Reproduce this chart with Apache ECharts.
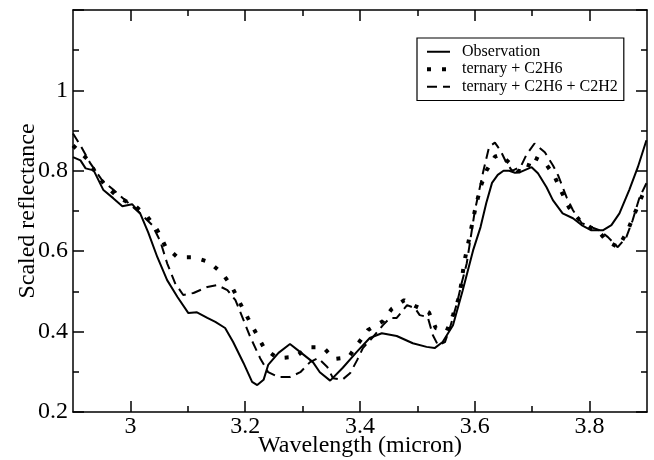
<!DOCTYPE html>
<html><head><meta charset="utf-8">
<script src="https://cdn.jsdelivr.net/npm/echarts@6/dist/echarts.min.js"></script>
<style>html,body{margin:0;padding:0;background:#fff}#c{width:654px;height:460px}</style>
</head><body><div id="c"></div>
<script>
// Observation
const obsX = [2.900,2.913,2.922,2.936,2.953,2.970,2.986,3.003,3.017,3.031,3.047,3.064,3.082,3.101,3.116,3.134,3.148,3.165,3.179,3.197,3.212,3.221,3.232,3.240,3.258,3.278,3.296,3.318,3.330,3.348,3.370,3.394,3.417,3.438,3.464,3.492,3.516,3.530,3.544,3.562,3.579,3.597,3.610,3.620,3.630,3.640,3.650,3.660,3.670,3.678,3.699,3.710,3.725,3.736,3.753,3.771,3.786,3.803,3.823,3.838,3.852,3.869,3.884,3.899];
const obsY = [0.834,0.826,0.806,0.801,0.752,0.732,0.712,0.717,0.694,0.647,0.585,0.528,0.486,0.446,0.448,0.434,0.424,0.409,0.374,0.322,0.275,0.267,0.280,0.317,0.347,0.369,0.349,0.324,0.299,0.278,0.310,0.349,0.384,0.396,0.389,0.371,0.362,0.359,0.374,0.416,0.503,0.602,0.660,0.720,0.770,0.790,0.800,0.800,0.795,0.796,0.809,0.794,0.759,0.727,0.694,0.682,0.665,0.652,0.652,0.665,0.694,0.752,0.809,0.876];
// ternary + C2H6
const c2h6X = [2.900,2.925,2.939,2.956,2.979,3.008,3.030,3.047,3.061,3.082,3.110,3.137,3.160,3.177,3.191,3.205,3.219,3.233,3.256,3.287,3.310,3.336,3.355,3.380,3.397,3.414,3.440,3.455,3.477,3.497,3.520,3.532,3.551,3.562,3.572,3.577,3.581,3.590,3.600,3.610,3.620,3.635,3.645,3.660,3.675,3.690,3.699,3.722,3.739,3.751,3.764,3.782,3.803,3.814,3.830,3.850,3.866,3.877,3.889,3.899];
const c2h6Y = [0.863,0.829,0.796,0.764,0.734,0.713,0.685,0.652,0.612,0.585,0.585,0.573,0.545,0.511,0.471,0.433,0.396,0.359,0.334,0.337,0.361,0.361,0.332,0.336,0.371,0.404,0.426,0.456,0.478,0.463,0.448,0.409,0.401,0.441,0.483,0.523,0.568,0.630,0.700,0.760,0.800,0.835,0.840,0.820,0.800,0.797,0.836,0.821,0.786,0.748,0.709,0.678,0.658,0.652,0.625,0.610,0.650,0.689,0.729,0.764];
// ternary + C2H6 + C2H2
const c2h2X = [2.900,2.913,2.930,2.951,2.971,2.995,3.017,3.038,3.052,3.064,3.078,3.092,3.110,3.134,3.151,3.169,3.183,3.195,3.209,3.226,3.240,3.258,3.278,3.296,3.313,3.327,3.343,3.353,3.369,3.383,3.395,3.405,3.421,3.440,3.452,3.464,3.482,3.496,3.504,3.518,3.527,3.536,3.548,3.557,3.569,3.577,3.586,3.600,3.615,3.625,3.635,3.645,3.655,3.665,3.680,3.690,3.704,3.722,3.736,3.745,3.760,3.771,3.786,3.803,3.817,3.832,3.849,3.864,3.875,3.887,3.899];
const c2h2Y = [0.893,0.863,0.819,0.776,0.752,0.722,0.694,0.665,0.625,0.570,0.520,0.491,0.496,0.511,0.516,0.503,0.478,0.436,0.386,0.334,0.299,0.287,0.287,0.299,0.324,0.334,0.312,0.284,0.280,0.297,0.329,0.359,0.384,0.416,0.434,0.434,0.466,0.458,0.441,0.436,0.391,0.366,0.374,0.411,0.471,0.520,0.570,0.700,0.800,0.860,0.870,0.850,0.820,0.800,0.810,0.840,0.868,0.846,0.814,0.789,0.734,0.702,0.670,0.660,0.652,0.635,0.610,0.635,0.677,0.734,0.769];

const seriesNames = ['Observation', 'ternary + C2H6', 'ternary + C2H6 + C2H2'];
const xMajorTicks = [3.0, 3.2, 3.4, 3.6, 3.8];
const xMinorTicks = [3.1, 3.3, 3.5, 3.7];
const xRange = [2.9, 3.9];
const yRange = [0.2, 1.2];
const xTitle = 'Wavelength (micron)';
const yTitle = 'Scaled reflectance';

const zip = (xs, ys) => xs.map((x, i) => [x, ys[i]]);
const FONT = 'Liberation Serif';
const black = '#000';
const gridBox = { left: 73, right: 7, top: 10, bottom: 48, containLabel: false, outerBoundsMode: 'none' };
const lineSty = { color: black, width: 1.5 };

const chart = echarts.init(document.getElementById('c'), null, { renderer: 'canvas' });
chart.setOption({
  animation: false,
  backgroundColor: '#fff',
  grid: [Object.assign({}, gridBox), Object.assign({}, gridBox)],
  legend: {
    orient: 'vertical', left: 417, top: 38,
    padding: [5, 6, 5, 8], itemGap: 0, itemWidth: 23, itemHeight: 12,
    borderColor: black, borderWidth: 1.2, backgroundColor: '#fff',
    itemStyle: { opacity: 0 },
    lineStyle: { width: 'inherit' },
    textStyle: { fontFamily: FONT, fontSize: 16, lineHeight: 17.5, color: black, padding: [0, 0, 0, 7] },
    data: seriesNames
  },
  xAxis: [
    { type: 'value', gridIndex: 0, position: 'bottom', min: xRange[0], max: xRange[1],
      axisLine: { show: true, lineStyle: lineSty },
      axisTick: { show: true, inside: true, length: 11, customValues: xMajorTicks, lineStyle: lineSty },
      axisLabel: { show: true, customValues: xMajorTicks, formatter: v => String(+v.toFixed(1)),
        fontFamily: FONT, fontSize: 24, color: black, margin: 3 },
      splitLine: { show: false },
      name: xTitle, nameLocation: 'middle', nameGap: 22, nameMoveOverlap: false,
      nameTextStyle: { fontFamily: FONT, fontSize: 24, color: black } },
    { type: 'value', gridIndex: 0, position: 'top', min: xRange[0], max: xRange[1],
      axisLine: { show: true, lineStyle: lineSty },
      axisTick: { show: true, inside: true, length: 11, customValues: xMajorTicks, lineStyle: lineSty },
      axisLabel: { show: false }, splitLine: { show: false } },
    { type: 'value', gridIndex: 1, position: 'bottom', min: xRange[0], max: xRange[1],
      axisLine: { show: false },
      axisTick: { show: true, inside: true, length: 6, customValues: xMinorTicks, lineStyle: lineSty },
      axisLabel: { show: false }, splitLine: { show: false } },
    { type: 'value', gridIndex: 1, position: 'top', min: xRange[0], max: xRange[1],
      axisLine: { show: false },
      axisTick: { show: true, inside: true, length: 6, customValues: xMinorTicks, lineStyle: lineSty },
      axisLabel: { show: false }, splitLine: { show: false } }
  ],
  yAxis: [
    { type: 'value', gridIndex: 0, position: 'left', min: yRange[0], max: yRange[1], interval: 0.2,
      axisLine: { show: true, lineStyle: lineSty },
      axisTick: { show: true, inside: true, length: 11, lineStyle: lineSty },
      minorTick: { show: true, splitNumber: 2, length: 6, lineStyle: lineSty },
      axisLabel: { show: true, formatter: v => (v > 1.1 ? '' : String(+v.toFixed(1))),
        fontFamily: FONT, fontSize: 24, color: black, margin: 5 },
      splitLine: { show: false }, minorSplitLine: { show: false },
      name: yTitle, nameLocation: 'middle', nameGap: 33, nameMoveOverlap: false,
      nameTextStyle: { fontFamily: FONT, fontSize: 24, color: black } },
    { type: 'value', gridIndex: 0, position: 'right', min: yRange[0], max: yRange[1], interval: 0.2,
      axisLine: { show: true, lineStyle: lineSty },
      axisTick: { show: true, inside: true, length: 11, lineStyle: lineSty },
      minorTick: { show: true, splitNumber: 2, length: 6, lineStyle: lineSty },
      axisLabel: { show: false }, splitLine: { show: false } },
    { type: 'value', gridIndex: 1, min: yRange[0], max: yRange[1], show: false }
  ],
  series: [
    { name: seriesNames[0], type: 'line', xAxisIndex: 0, yAxisIndex: 0, symbol: 'none', showSymbol: false,
      data: zip(obsX, obsY), lineStyle: { color: black, width: 2 }, itemStyle: { color: black } },
    { name: seriesNames[1], type: 'line', xAxisIndex: 0, yAxisIndex: 0, symbol: 'none', showSymbol: false,
      data: zip(c2h6X, c2h6Y), lineStyle: { color: black, width: 4, type: [4, 11], cap: 'butt' }, itemStyle: { color: black } },
    { name: seriesNames[2], type: 'line', xAxisIndex: 0, yAxisIndex: 0, symbol: 'none', showSymbol: false,
      data: zip(c2h2X, c2h2Y), lineStyle: { color: black, width: 2, type: [10, 6] }, itemStyle: { color: black } }
  ]
});
</script></body></html>
